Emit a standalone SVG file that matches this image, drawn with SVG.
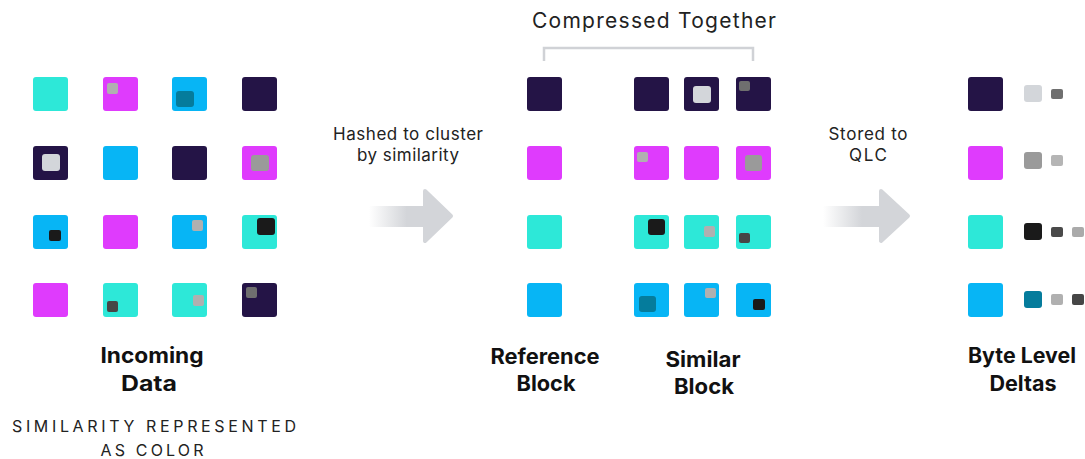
<svg xmlns="http://www.w3.org/2000/svg" width="1085" height="459" viewBox="0 0 1085 459">
  <style>
    .t { width: 35px; height: 34px; rx: 3px; }
    .teal { fill: #2de8d8; }
    .mag { fill: #df3bfd; }
    .blue { fill: #07b5f5; }
    .dark { fill: #241446; }
    .dt { fill: #057c9c; }
    .lg { fill: #d3d6da; }
    .g9 { fill: #9a9a9a; }
    .gb { fill: #b0b0b0; }
    .g6 { fill: #6f6f6f; }
    .g4 { fill: #464646; }
    .bk { fill: #1a1a1a; }
    .lbl { font-family: Inter, "Liberation Sans", sans-serif; font-size: 17px; fill: #222; text-anchor: middle; }
    .ttl { font-family: Inter, "Liberation Sans", sans-serif; font-size: 21px; font-weight: 700; fill: #111; text-anchor: middle; }
    .cap { font-family: Inter, "Liberation Sans", sans-serif; font-size: 16px; fill: #222; text-anchor: middle; }
  </style>
  <defs>
    <linearGradient id="fade" x1="0" y1="0" x2="1" y2="0">
      <stop offset="0" stop-color="#ffffff"/>
      <stop offset="0.65" stop-color="#d3d5d9"/>
      <stop offset="1" stop-color="#d3d5d9"/>
    </linearGradient>
  </defs>

  <rect width="1085" height="459" fill="#ffffff"/>

  <!-- Incoming data grid -->
  <g id="incoming">
    <g id="in-1-1"><rect class="t teal" x="33" y="77"/></g>
    <g id="in-1-2"><rect class="t mag" x="103" y="77"/><rect class="gb" x="107" y="83" width="11" height="11" rx="2"/></g>
    <g id="in-1-3"><rect class="t blue" x="172" y="77"/><rect class="dt" x="176" y="91" width="18" height="16" rx="3"/></g>
    <g id="in-1-4"><rect class="t dark" x="242" y="77"/></g>

    <g id="in-2-1"><rect class="t dark" x="33" y="146"/><rect class="lg" x="42" y="154" width="18" height="17" rx="3"/></g>
    <g id="in-2-2"><rect class="t blue" x="103" y="146"/></g>
    <g id="in-2-3"><rect class="t dark" x="172" y="146"/></g>
    <g id="in-2-4"><rect class="t mag" x="242" y="146"/><rect class="g9" x="251" y="155" width="18" height="16" rx="3"/></g>

    <g id="in-3-1"><rect class="t blue" x="33" y="215"/><rect class="bk" x="49" y="230" width="12" height="11" rx="2"/></g>
    <g id="in-3-2"><rect class="t mag" x="103" y="215"/></g>
    <g id="in-3-3"><rect class="t blue" x="172" y="215"/><rect class="gb" x="192" y="220" width="11" height="11" rx="2"/></g>
    <g id="in-3-4"><rect class="t teal" x="242" y="215"/><rect class="bk" x="257" y="218" width="18" height="17" rx="3"/></g>

    <g id="in-4-1"><rect class="t mag" x="33" y="283"/></g>
    <g id="in-4-2"><rect class="t teal" x="103" y="283"/><rect class="g4" x="107" y="301" width="11" height="11" rx="2"/></g>
    <g id="in-4-3"><rect class="t teal" x="172" y="283"/><rect class="gb" x="193" y="295" width="11" height="11" rx="2"/></g>
    <g id="in-4-4"><rect class="t dark" x="242" y="283"/><rect class="g6" x="246" y="287" width="11" height="11" rx="2"/></g>
  </g>

  <!-- Reference blocks -->
  <g id="reference">
    <g id="ref-1"><rect class="t dark" x="527" y="77"/></g>
    <g id="ref-2"><rect class="t mag" x="527" y="146"/></g>
    <g id="ref-3"><rect class="t teal" x="527" y="215"/></g>
    <g id="ref-4"><rect class="t blue" x="527" y="283"/></g>
  </g>

  <!-- Similar blocks -->
  <g id="similar">
    <g id="sim-1-1"><rect class="t dark" x="634" y="77"/></g>
    <g id="sim-1-2"><rect class="t dark" x="684" y="77"/><rect class="lg" x="693" y="86" width="18" height="17" rx="3"/></g>
    <g id="sim-1-3"><rect class="t dark" x="736" y="77"/><rect class="g6" x="739" y="81" width="11" height="10" rx="2"/></g>

    <g id="sim-2-1"><rect class="t mag" x="634" y="146"/><rect class="gb" x="637" y="152" width="11" height="10" rx="2"/></g>
    <g id="sim-2-2"><rect class="t mag" x="684" y="146"/></g>
    <g id="sim-2-3"><rect class="t mag" x="736" y="146"/><rect class="g9" x="745" y="155" width="17" height="16" rx="3"/></g>

    <g id="sim-3-1"><rect class="t teal" x="634" y="215"/><rect class="bk" x="648" y="219" width="17" height="16" rx="3"/></g>
    <g id="sim-3-2"><rect class="t teal" x="684" y="215"/><rect class="gb" x="704" y="226" width="11" height="11" rx="2"/></g>
    <g id="sim-3-3"><rect class="t teal" x="736" y="215"/><rect class="g4" x="739" y="233" width="11" height="10" rx="2"/></g>

    <g id="sim-4-1"><rect class="t blue" x="634" y="283"/><rect class="dt" x="639" y="296" width="17" height="16" rx="3"/></g>
    <g id="sim-4-2"><rect class="t blue" x="684" y="283"/><rect class="gb" x="705" y="288" width="11" height="10" rx="2"/></g>
    <g id="sim-4-3"><rect class="t blue" x="736" y="283"/><rect class="bk" x="753" y="299" width="12" height="11" rx="2"/></g>
  </g>

  <!-- Byte level deltas -->
  <g id="deltas">
    <g id="delta-1">
      <rect class="t dark" x="968" y="77"/>
      <rect class="lg" x="1024" y="85" width="18" height="17" rx="3"/>
      <rect class="g6" x="1051" y="89" width="12" height="10" rx="2"/>
    </g>
    <g id="delta-2">
      <rect class="t mag" x="968" y="146"/>
      <rect class="g9" x="1024" y="152" width="18" height="17" rx="3"/>
      <rect fill="#b5b5b5" x="1051" y="155" width="12" height="11" rx="2"/>
    </g>
    <g id="delta-3">
      <rect class="t teal" x="968" y="215"/>
      <rect class="bk" x="1024" y="223" width="18" height="17" rx="3"/>
      <rect fill="#4a4a4a" x="1051" y="227" width="12" height="10" rx="2"/>
      <rect fill="#aaaaaa" x="1072" y="227" width="12" height="10" rx="2"/>
    </g>
    <g id="delta-4">
      <rect class="t blue" x="968" y="283"/>
      <rect class="dt" x="1024" y="291" width="18" height="17" rx="3"/>
      <rect class="gb" x="1051" y="294" width="12" height="11" rx="2"/>
      <rect class="g4" x="1072" y="294" width="12" height="11" rx="2"/>
    </g>
  </g>

  <!-- Arrows and grouping bracket -->
  <g id="connectors">
    <rect x="369" y="206" width="58" height="21" fill="url(#fade)"/>
    <path d="M425 191 L451 216 L425 241 Z" fill="#d3d5d9" stroke="#d3d5d9" stroke-width="4" stroke-linejoin="round"/>

    <rect x="823" y="206" width="60" height="21" fill="url(#fade)"/>
    <path d="M881 191 L908 216 L881 241 Z" fill="#d3d5d9" stroke="#d3d5d9" stroke-width="4" stroke-linejoin="round"/>

    <path d="M544 61 V48 H753 V61" fill="none" stroke="#d0d2d6" stroke-width="2.5"/>
  </g>

  <!-- Labels -->
  <g id="labels">
    <text class="lbl" x="654" y="28" style="font-size:21px" textLength="244">Compressed Together</text>
    <text class="lbl" x="408" y="140" textLength="150">Hashed to cluster</text>
    <text class="lbl" x="408" y="161" textLength="102">by similarity</text>
    <text class="lbl" x="868" y="140" textLength="79">Stored to</text>
    <text class="lbl" x="868" y="161" textLength="38">QLC</text>

    <text class="ttl" x="152" y="363" textLength="103" lengthAdjust="spacingAndGlyphs">Incoming</text>
    <text class="ttl" x="149" y="391" textLength="56" lengthAdjust="spacingAndGlyphs">Data</text>
    <text class="ttl" x="545" y="364" textLength="109" lengthAdjust="spacingAndGlyphs">Reference</text>
    <text class="ttl" x="546" y="391" textLength="59" lengthAdjust="spacingAndGlyphs">Block</text>
    <text class="ttl" x="703" y="367" textLength="75" lengthAdjust="spacingAndGlyphs">Similar</text>
    <text class="ttl" x="704" y="394" textLength="60" lengthAdjust="spacingAndGlyphs">Block</text>
    <text class="ttl" x="1022" y="363" textLength="108" lengthAdjust="spacingAndGlyphs">Byte Level</text>
    <text class="ttl" x="1023" y="391" textLength="67" lengthAdjust="spacingAndGlyphs">Deltas</text>

    <text class="cap" x="154" y="432" textLength="284">SIMILARITY REPRESENTED</text>
    <text class="cap" x="152" y="456" textLength="103">AS COLOR</text>
  </g>
</svg>
